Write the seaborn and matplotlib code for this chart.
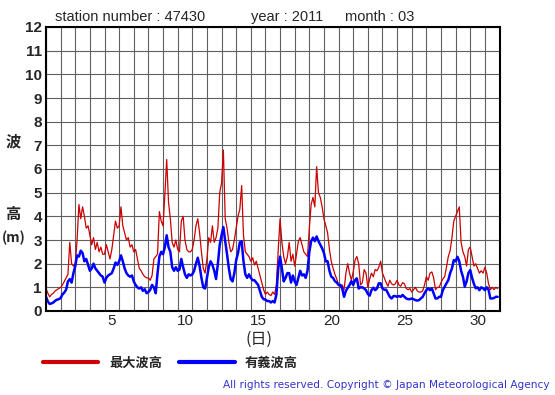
import numpy as np
import pandas as pd
import matplotlib
matplotlib.use('Agg')
import matplotlib.pyplot as plt
import seaborn as sns
from matplotlib.font_manager import FontProperties

# Wave heights (m), every 3 hours from day 1 00h
max_wave = [
    0.95, 0.75, 0.6, 0.7, 0.75, 0.85, 0.9, 0.95,     # 1
    1.0, 1.1, 1.25, 1.4, 1.55, 2.9, 2.0, 1.9,        # 2
    2.0, 3.0, 4.5, 3.9, 4.4, 4.0, 3.5, 3.6,          # 3
    3.2, 2.8, 3.1, 2.6, 2.9, 2.5, 2.7, 2.4,          # 4
    2.4, 2.8, 2.5, 2.2, 2.6, 3.2, 3.8, 3.5,          # 5
    3.6, 4.4, 3.6, 3.3, 3.0, 3.1, 2.7, 2.8,          # 6
    2.5, 2.6, 2.2, 1.8, 1.7, 1.55, 1.45, 1.4,        # 7
    1.4, 1.3, 1.5, 2.2, 2.3, 2.4, 4.2, 3.8,          # 8
    3.6, 4.9, 6.4, 4.6, 3.9, 2.9, 2.7, 3.0,          # 9
    2.6, 2.5, 3.8, 4.0, 3.0, 2.6, 2.5, 2.5,          # 10
    2.6, 3.0, 3.6, 3.9, 3.3, 2.5, 1.8, 1.6,          # 11
    2.2, 3.1, 2.9, 3.6, 2.9, 3.1, 3.5, 5.0,          # 12
    5.4, 6.8, 3.9, 3.5, 2.9, 2.5, 2.6, 3.0,          # 13
    3.5, 4.0, 4.3, 5.3, 3.2, 2.5, 2.4, 2.3,          # 14
    2.1, 2.25, 1.95, 2.1, 1.8, 1.5, 1.2, 0.9,        # 15
    0.7, 0.8, 0.7, 0.65, 0.8, 0.7, 1.1, 2.6,         # 16
    3.9, 2.9, 2.3, 2.0, 2.3, 2.9, 2.1, 2.4,          # 17
    1.9, 2.4, 2.95, 3.1, 2.8, 2.5, 2.4, 2.3,         # 18
    3.5, 4.5, 4.8, 4.4, 6.1, 5.0, 4.8, 4.4,          # 19
    3.9, 3.6, 3.3, 2.6, 2.1, 1.8, 1.55, 1.35,        # 20
    1.1, 1.0, 1.1, 0.9, 1.6, 2.0, 1.6, 1.3,          # 21
    1.65, 2.15, 2.3, 2.0, 1.1, 1.2, 1.75, 1.6,       # 22
    1.0, 1.35, 1.6, 1.45, 1.75, 1.7, 1.85, 2.1,      # 23
    1.6, 1.4, 1.2, 1.05, 1.3, 1.15, 1.1, 1.15,       # 24
    1.3, 1.1, 1.05, 1.2, 1.15, 0.95, 0.9, 0.95,      # 25
    0.8, 0.9, 1.0, 0.85, 0.8, 0.8, 0.85, 1.1,        # 26
    1.45, 1.3, 1.6, 1.65, 1.4, 0.9, 1.0, 1.0,        # 27
    1.2, 1.35, 1.45, 1.85, 2.3, 2.55, 3.1, 3.8,      # 28
    4.0, 4.2, 4.4, 2.9, 2.5, 2.3, 1.9, 2.6,          # 29
    2.7, 2.3, 1.9, 2.0, 1.8, 1.6, 1.7, 1.6,          # 30
    1.85, 1.6, 1.15, 0.9, 1.0, 0.9, 1.0, 0.95,       # 31
]

sig_wave = [
    0.6, 0.4, 0.3, 0.32, 0.36, 0.43, 0.48, 0.5,      # 1
    0.55, 0.7, 0.78, 0.9, 1.25, 1.35, 1.2, 1.6,      # 2
    1.9, 2.35, 2.3, 2.55, 2.45, 2.1, 2.2, 1.95,      # 3
    1.7, 1.8, 2.0, 1.8, 1.7, 1.6, 1.5, 1.45,         # 4
    1.2, 1.4, 1.5, 1.55, 1.6, 1.8, 2.05, 1.95,       # 5
    2.1, 2.35, 2.1, 1.8, 1.6, 1.5, 1.45, 1.5,        # 6
    1.25, 1.1, 1.0, 0.95, 1.0, 0.85, 0.92, 0.75,     # 7
    0.8, 0.9, 1.1, 1.0, 0.75, 1.6, 2.3, 2.5,         # 8
    2.4, 2.7, 3.2, 2.7, 2.5, 1.85, 1.7, 1.85,        # 9
    1.7, 1.75, 2.2, 1.85, 1.55, 1.4, 1.55, 1.5,      # 10
    1.55, 1.7, 2.0, 2.25, 1.9, 1.4, 1.0, 0.95,       # 11
    1.4, 1.85, 2.1, 1.95, 1.7, 1.35, 2.0, 2.8,       # 12
    3.2, 3.55, 2.95, 2.4, 1.8, 1.35, 1.25, 1.6,      # 13
    2.15, 2.45, 2.9, 2.95, 2.1, 1.55, 1.4, 1.55,     # 14
    1.4, 1.3, 1.3, 1.2, 1.1, 0.85, 0.6, 0.5,         # 15
    0.48, 0.42, 0.42, 0.36, 0.42, 0.36, 0.7, 1.8,    # 16
    2.3, 1.8, 1.25, 1.4, 1.6, 1.6, 1.2, 1.5,         # 17
    1.25, 1.1, 1.4, 1.7, 1.5, 1.55, 1.4, 1.7,        # 18
    2.5, 2.95, 3.1, 2.95, 3.15, 2.95, 2.8, 2.65,     # 19
    2.45, 2.1, 2.1, 1.7, 1.45, 1.4, 1.26, 1.2,       # 20
    1.1, 1.1, 0.95, 0.6, 0.85, 0.98, 1.1, 1.26,      # 21
    1.1, 1.3, 1.38, 0.95, 1.0, 1.0, 0.95, 0.88,      # 22
    0.72, 0.65, 0.88, 0.98, 0.88, 0.95, 1.17, 1.17,  # 23
    0.95, 0.9, 0.9, 0.75, 0.6, 0.53, 0.63, 0.63,     # 24
    0.6, 0.63, 0.6, 0.68, 0.6, 0.53, 0.5, 0.5,       # 25
    0.53, 0.5, 0.46, 0.44, 0.46, 0.53, 0.6, 0.75,    # 26
    0.88, 0.96, 0.88, 0.96, 0.74, 0.53, 0.53, 0.6,   # 27
    0.6, 0.88, 1.03, 1.17, 1.3, 1.6, 1.8, 2.15,      # 28
    2.1, 2.29, 2.1, 1.7, 1.45, 1.03, 1.25, 1.6,      # 29
    1.73, 1.4, 1.15, 0.96, 1.0, 0.88, 1.0, 0.96,     # 30
    0.88, 1.0, 0.9, 0.53, 0.53, 0.55, 0.6, 0.6,      # 31
]

day_ticks = [5, 10, 15, 20, 25, 30]
y_ticks = list(range(0, 13))

# time in days, 3-hourly samples starting day 1 00h
t = 1 + np.arange(len(max_wave)) / 8.0
df = pd.DataFrame({'day': t, 'max': max_wave, 'sig': sig_wave})

sns.set_style('white')
plt.rcParams['font.family'] = ['Liberation Sans', 'Noto Sans CJK JP']
jp = 'Noto Sans CJK JP'

fig = plt.figure(figsize=(5.55, 3.95), dpi=100)
ax = fig.add_axes([46/555, 1 - 311/395, 453.5/555, 284/395])

sns.lineplot(data=df, x='day', y='max', ax=ax, color='#cc0000', lw=0.9, label='最大波高')
sns.lineplot(data=df, x='day', y='sig', ax=ax, color='#0000ff', lw=1.8, label='有義波高')

ax.set_xlim(1, 32)
ax.set_ylim(0, 12)
ax.set_xticks(np.arange(1, 33), minor=True)
ax.set_xticks([d + 0.5 for d in day_ticks])
ax.set_xticklabels([str(d) for d in day_ticks], fontsize=11)
ax.set_yticks(y_ticks)
ax.set_yticklabels([str(v) for v in y_ticks], fontsize=11, fontweight='bold')
ax.tick_params(which='both', length=0)
ax.tick_params(axis='x', pad=2)
ax.tick_params(axis='y', pad=3)
ax.grid(which='minor', axis='x', color='#606060', lw=0.8)
ax.grid(which='major', axis='y', color='#606060', lw=0.8)
ax.grid(which='major', axis='x', visible=False)
ax.set_axisbelow(True)
for s in ax.spines.values():
    s.set_color('black')
    s.set_linewidth(1.5)
ax.set_xlabel('')
ax.set_ylabel('')

# title line
fig.text(55/555, 1 - 17/395, 'station number : 47430', fontsize=10.5, va='center', ha='left')
fig.text(251/555, 1 - 17/395, 'year : 2011', fontsize=10.5, va='center', ha='left')
fig.text(345/555, 1 - 17/395, 'month : 03', fontsize=10.5, va='center', ha='left')

# y label
fig.text(13/555, 1 - 141/395, '波', family=jp, fontsize=11, fontweight='bold', ha='center', va='center')
fig.text(13/555, 1 - 214/395, '高', family=jp, fontsize=11, fontweight='bold', ha='center', va='center')
fig.text(14/555, 1 - 238/395, '(m)', family=jp, fontsize=10, fontweight='bold', ha='center', va='center')
# x label
fig.text(259/555, 1 - 339/395, '(日)', family=jp, fontsize=11.5, ha='center', va='center')

# legend
handles, labels = ax.get_legend_handles_labels()
ax.get_legend().remove()
leg = fig.legend(handles, labels, loc='center left', bbox_to_anchor=(43/555, 1 - 363/395),
                 ncol=2, frameon=False, handlelength=4.2, handletextpad=0.8,
                 columnspacing=1.3, borderpad=0, borderaxespad=0,
                 prop=FontProperties(family=jp, weight='bold', size=9.5))
for line in leg.get_lines():
    line.set_linewidth(3)

fig.text(550/555, 1 - 385/395, 'All rights reserved. Copyright © Japan Meteorological Agency',
         family='DejaVu Sans', fontsize=7.6, color='#3333cc', ha='right', va='center')

fig.savefig('out.png', dpi=100)
